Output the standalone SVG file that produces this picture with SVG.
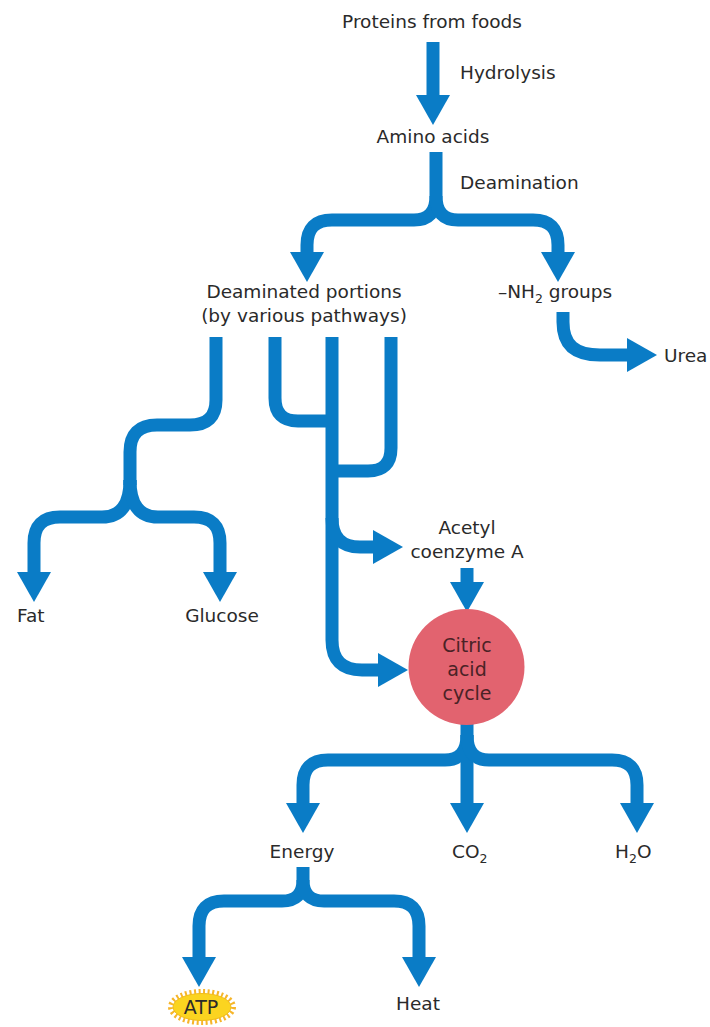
<svg xmlns="http://www.w3.org/2000/svg" width="710" height="1027" viewBox="0 0 710 1027">
<style>
  text { font-family: "DejaVu Sans", "Open Sans", sans-serif; font-size: 18.5px; fill: #2a2a2a; }
  .c { text-anchor: middle; }
  .sub { font-size: 12.5px; }
  .cyc { fill: #4a2226; font-size: 19px; }
  .flow { fill: none; stroke: #0a7cc6; stroke-width: 13; marker-end: url(#head); }
  .flown { fill: none; stroke: #0a7cc6; stroke-width: 13; }
</style>
<defs>
  <marker id="head" viewBox="0 0 30 34" markerUnits="userSpaceOnUse" markerWidth="30" markerHeight="34" refX="0" refY="17" orient="auto">
    <path d="M0,0 L30,17 L0,34 Z" fill="#0a7cc6"/>
  </marker>
</defs>

<g id="connectors">
  <path class="flow" d="M433,42 V95"/>
  <path class="flow" d="M436,152 V196 Q436,220 414,220 H332 Q307,220 307,245 V252"/>
  <path class="flow" d="M436,196 Q436,220 458,220 H533 Q558,220 558,245 V252"/>
  <path class="flow" d="M563,312 V322 C563,345 575,355 600,355 H627"/>
  <path class="flown" d="M216,337 V400 Q216,425 190,425 H157 Q130,425 130,452 V485"/>
  <path class="flow" d="M130,480 Q130,517 102,517 H60 Q34,517 34,543 V572"/>
  <path class="flow" d="M130,480 Q130,517 158,517 H194 Q220,517 220,543 V572"/>
  <path class="flown" d="M275,337 V398 Q275,421 298,421 H333"/>
  <path class="flown" d="M391,337 V448 Q391,471 368,471 H331"/>
  <path class="flow" d="M332,337 V640 Q332,670 362,670 H378"/>
  <path class="flow" d="M332,518 Q332,547 360,547 H373"/>
  <path class="flow" d="M467,568 V582"/>
  <path class="flow" d="M467,735 Q467,760 445,760 H328 Q303,760 303,785 V803"/>
  <path class="flow" d="M467,720 V803"/>
  <path class="flow" d="M467,735 Q467,760 489,760 H612 Q637,760 637,785 V803"/>
  <path class="flow" d="M303,867 V880 Q303,901 282,901 H224 Q199,901 199,926 V957"/>
  <path class="flow" d="M303,880 Q303,901 324,901 H394 Q419,901 419,926 V957"/>
</g>

<g id="proteins"><text class="c" x="432" y="28">Proteins from foods</text></g>
<g id="hydrolysis"><text x="460" y="79">Hydrolysis</text></g>
<g id="amino"><text class="c" x="433" y="143">Amino acids</text></g>
<g id="deamination"><text x="460" y="189">Deamination</text></g>
<g id="deaminated">
  <text class="c" x="304" y="298">Deaminated portions</text>
  <text class="c" x="304" y="322">(by various pathways)</text>
</g>
<g id="nh2"><text x="498" y="298">–NH<tspan class="sub" dy="5">2</tspan><tspan dy="-5"> groups</tspan></text></g>
<g id="urea"><text x="664" y="362">Urea</text></g>
<g id="fat"><text x="17" y="622">Fat</text></g>
<g id="glucose"><text class="c" x="222" y="622">Glucose</text></g>
<g id="acetyl">
  <text class="c" x="467" y="534">Acetyl</text>
  <text class="c" x="467" y="558">coenzyme A</text>
</g>
<g id="citric">
  <circle cx="466.5" cy="667" r="58" fill="#e2636f"/>
  <text class="c cyc" x="467" y="652">Citric</text>
  <text class="c cyc" x="467" y="676">acid</text>
  <text class="c cyc" x="467" y="700">cycle</text>
</g>
<g id="energy"><text class="c" x="302" y="858">Energy</text></g>
<g id="co2"><text x="452" y="858">CO<tspan class="sub" dy="5">2</tspan></text></g>
<g id="h2o"><text x="615" y="858">H<tspan class="sub" dy="5">2</tspan><tspan dy="-5">O</tspan></text></g>
<g id="atp">
  <ellipse cx="202" cy="1007" rx="31" ry="15" fill="none" stroke="#f6b52a" stroke-width="6" stroke-dasharray="2 2.5"/>
  <ellipse cx="202" cy="1007" rx="29" ry="13.5" fill="#fbd420" stroke="#f1bc1c" stroke-width="1"/>
  <text class="c" x="201" y="1014" style="font-size:19px">ATP</text>
</g>
<g id="heat"><text class="c" x="418" y="1010">Heat</text></g>
</svg>
